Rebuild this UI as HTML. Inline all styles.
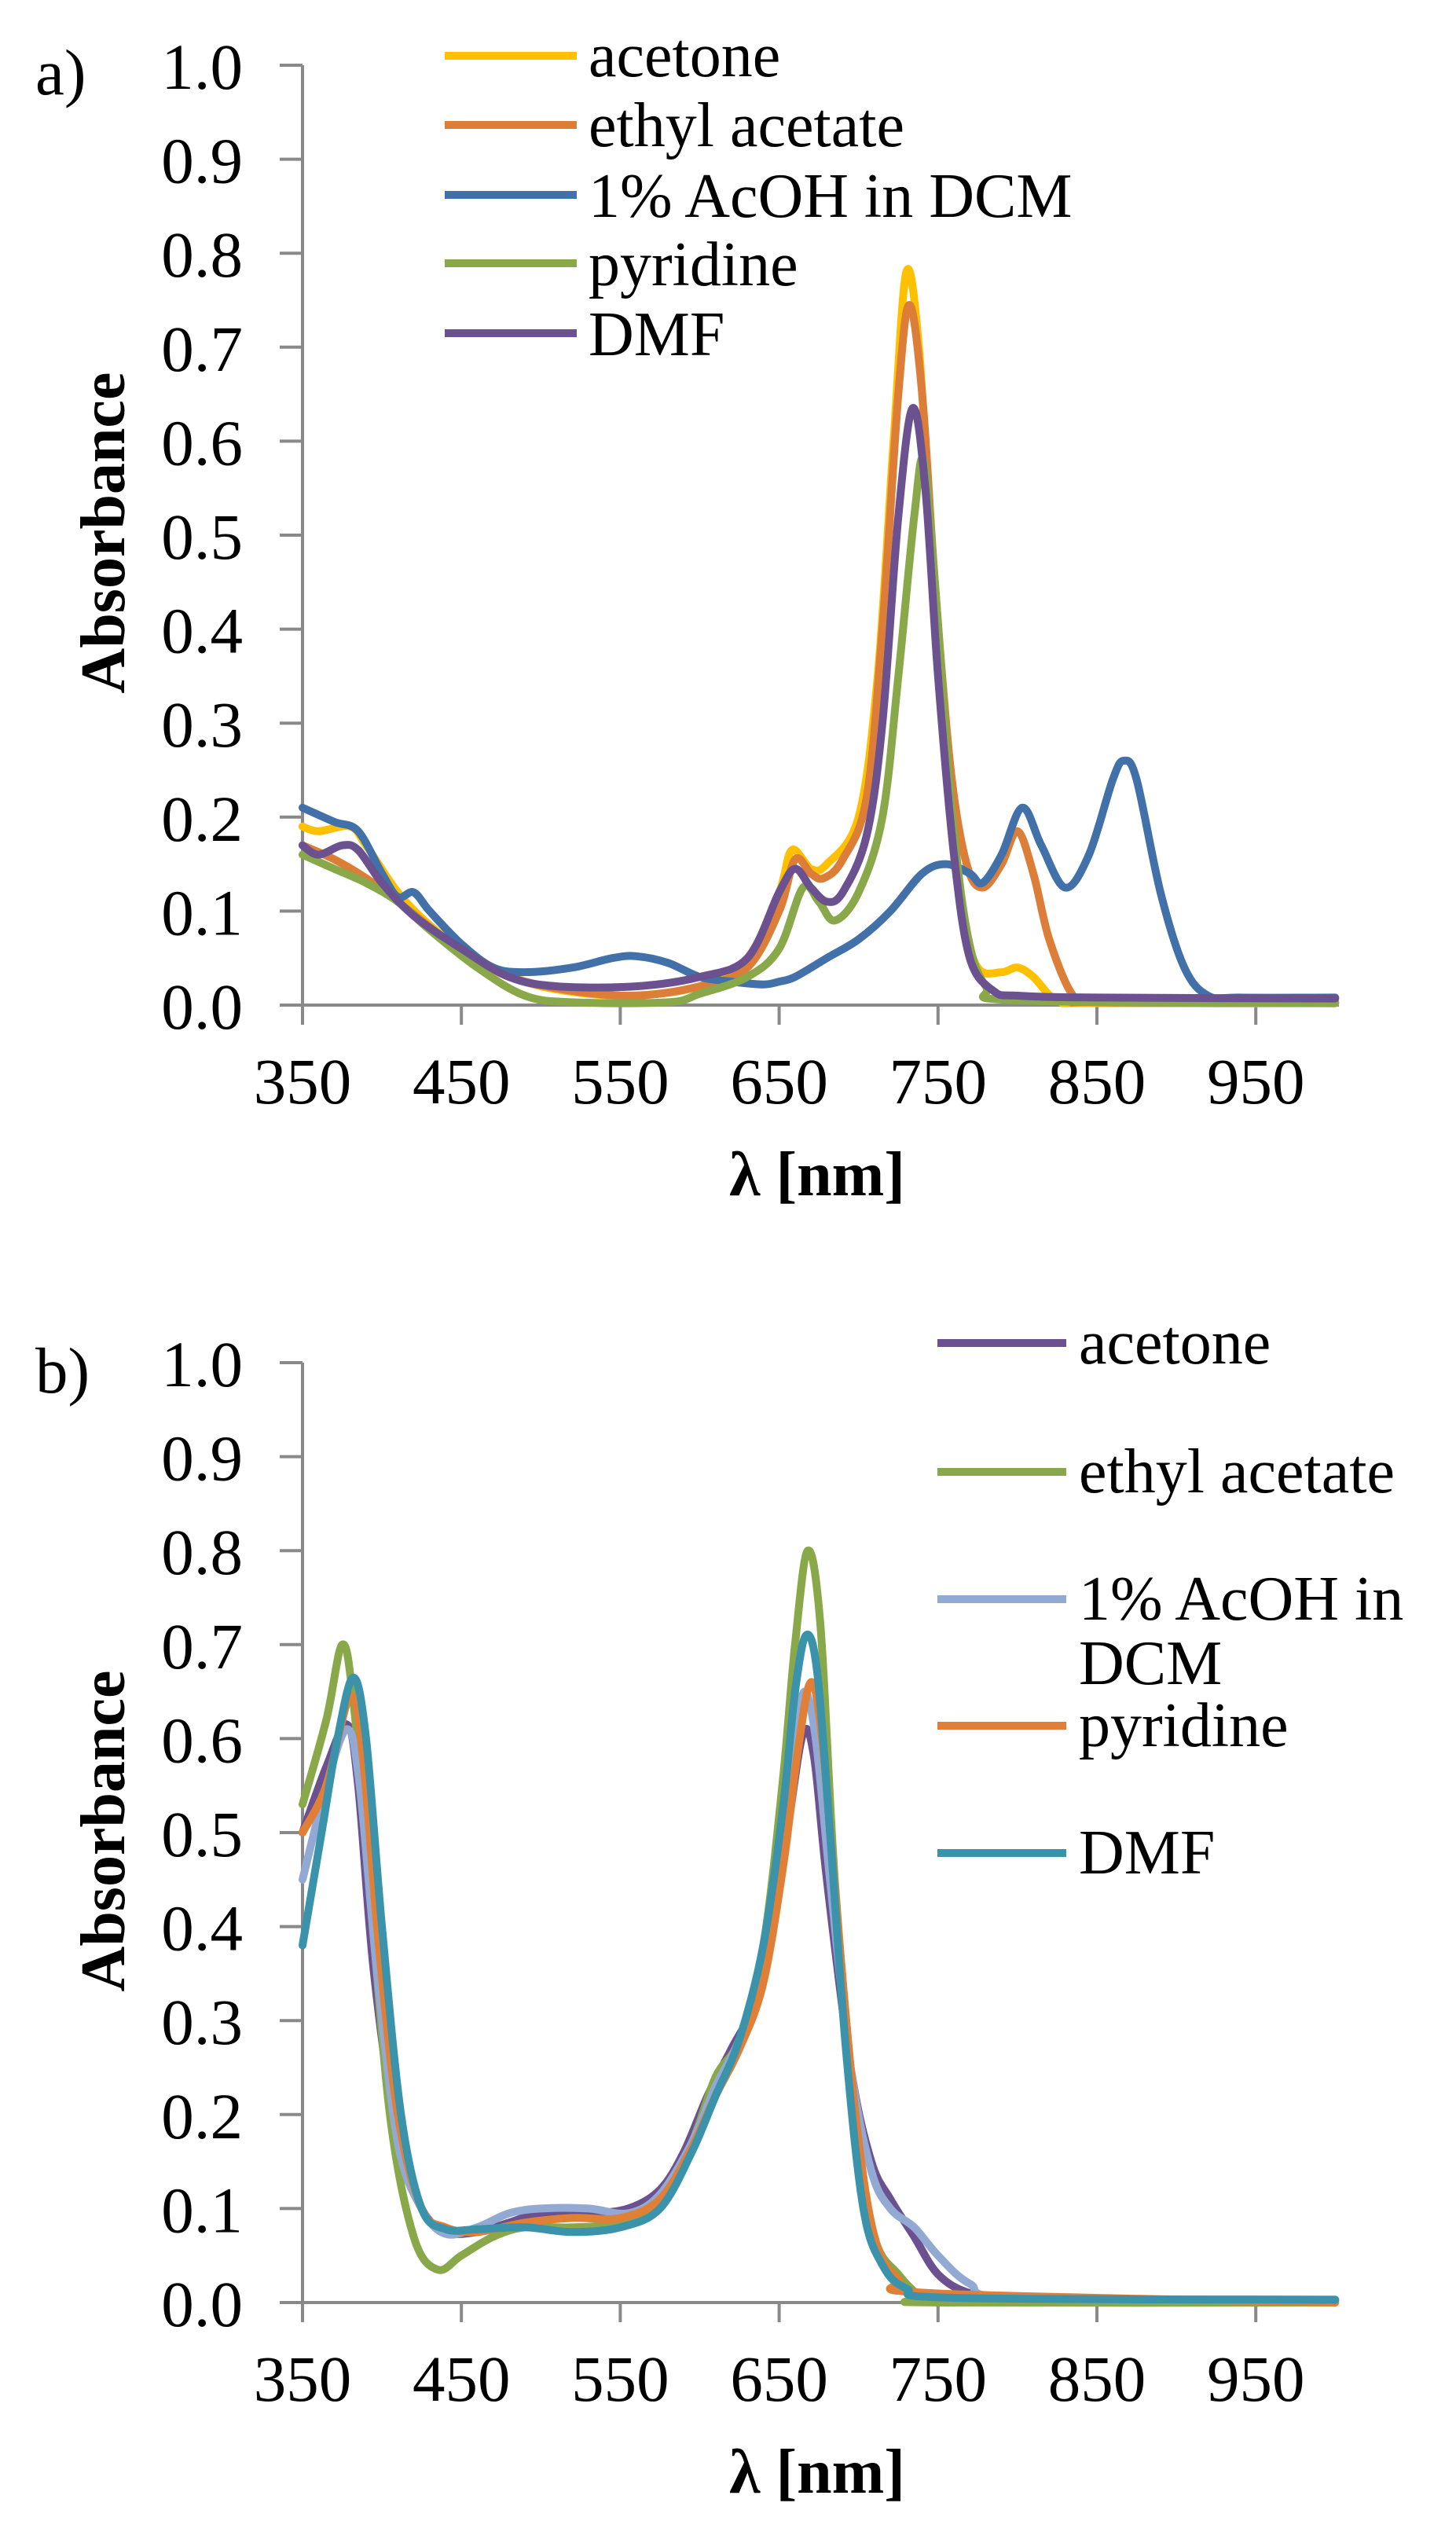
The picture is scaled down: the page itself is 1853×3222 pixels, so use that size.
<!DOCTYPE html>
<html><head><meta charset="utf-8">
<style>
html,body{margin:0;padding:0;background:#fff;}
svg{display:block;}
text{font-family:"Liberation Serif",serif;fill:#000;}
.t{font-size:83px;}
.lg{font-size:80px;}
.ti{font-size:80px;font-weight:bold;}
</style></head>
<body>
<svg id="s" width="1853" height="3222" viewBox="0 0 1853 3222" xmlns="http://www.w3.org/2000/svg">
<g id="axes" stroke="#898989" stroke-width="4" fill="none"></g>
<g id="curves" fill="none" stroke-width="10" stroke-linejoin="round" stroke-linecap="round"></g>
<g id="txt">
<text class="t" x="45" y="120" font-size="90">a)</text>
<text class="t" x="45" y="1772" font-size="90">b)</text>
<text class="ti" transform="translate(158,678) rotate(-90)" text-anchor="middle">Absorbance</text>
<text class="ti" transform="translate(158,2330) rotate(-90)" text-anchor="middle">Absorbance</text>
<text class="ti" x="1040" y="1521" text-anchor="middle">λ [nm]</text>
<text class="ti" x="1040" y="3172" text-anchor="middle">λ [nm]</text>
<text class="lg" x="749" y="97">acetone</text>
<text class="lg" x="749" y="186">ethyl acetate</text>
<text class="lg" x="749" y="276">1% AcOH in DCM</text>
<text class="lg" x="749" y="363">pyridine</text>
<text class="lg" x="749" y="452">DMF</text>
<text class="lg" x="1373" y="1735">acetone</text>
<text class="lg" x="1373" y="1899">ethyl acetate</text>
<text class="lg" x="1373" y="2061">1% AcOH in</text>
<text class="lg" x="1373" y="2143">DCM</text>
<text class="lg" x="1373" y="2222">pyridine</text>
<text class="lg" x="1373" y="2384">DMF</text>
</g>
</svg>
<script>
var NS="http://www.w3.org/2000/svg";
var svg=document.getElementById('s'),ax=document.getElementById('axes'),cv=document.getElementById('curves'),tx=document.getElementById('txt');
var X0=385,SX=2.022,R=1704;
function X(n){return X0+(n-350)*SX;}
function el(p,tag,a,t){var e=document.createElementNS(NS,tag);for(var k in a)e.setAttribute(k,a[k]);if(t!==undefined)e.textContent=t;p.appendChild(e);return e;}
function axes(off){
 var y0=1279+off,y1=83+off;
 el(ax,'line',{x1:X0,y1:y1,x2:X0,y2:y0+25});
 el(ax,'line',{x1:356,y1:y0,x2:R,y2:y0});
 for(var i=0;i<=10;i++){var y=y0-i*119.6;el(ax,'line',{x1:356,y1:y,x2:X0,y2:y});
  el(tx,'text',{'class':'t',x:309,y:y+30,'text-anchor':'end'},(i/10).toFixed(1));}
 for(var n=350;n<=950;n+=100){var x=X(n);el(ax,'line',{x1:x,y1:y0,x2:x,y2:y0+25});
  el(tx,'text',{'class':'t',x:x,y:y0+125,'text-anchor':'middle'},String(n));}
}
axes(0);axes(1651);
function path(d,off){
 var p=[];for(var i=0;i<d.length;i+=2)p.push([X(d[i]),1279+off-d[i+1]*1196]);
 var s='M'+p[0][0].toFixed(1)+','+p[0][1].toFixed(1);
 for(var i=0;i<p.length-1;i++){var a=p[Math.max(0,i-1)],b=p[i],c=p[i+1],e=p[Math.min(p.length-1,i+2)];
  var c1=[b[0]+(c[0]-a[0])/6,b[1]+(c[1]-a[1])/6],c2=[c[0]-(e[0]-b[0])/6,c[1]-(e[1]-b[1])/6];
  s+='C'+c1[0].toFixed(1)+','+c1[1].toFixed(1)+' '+c2[0].toFixed(1)+','+c2[1].toFixed(1)+' '+c[0].toFixed(1)+','+c[1].toFixed(1);}
 return s;}
var A=[
['#FFC000',[350,.19,360,.185,380,.19,390,.17,410,.12,430,.085,450,.06,470,.04,500,.02,550,.01,600,.02,630,.05,650,.12,658,.165,670,.145,680,.15,700,.2,712,.35,722,.6,730,.78,738,.7,745,.5,755,.25,765,.1,775,.04,790,.035,800,.04,810,.03,825,.005,850,.002,1000,.002]],
['#DC7E38',[350,.17,370,.155,390,.135,410,.11,440,.07,460,.05,480,.03,520,.015,560,.01,600,.02,630,.04,650,.1,660,.155,670,.14,678,.135,690,.155,705,.22,715,.4,725,.65,732,.745,740,.65,748,.45,758,.25,768,.15,778,.125,790,.15,800,.185,810,.14,820,.07,835,.01,850,.003,1000,.003]],
['#4270A8',[350,.21,370,.195,385,.185,400,.14,410,.115,420,.12,430,.1,450,.065,470,.04,490,.035,520,.04,545,.05,560,.052,580,.045,600,.03,620,.025,640,.022,650,.025,660,.03,680,.05,700,.07,720,.1,740,.14,755,.15,770,.14,778,.13,790,.16,803,.21,815,.17,830,.125,845,.16,860,.24,867,.26,875,.24,890,.12,905,.04,920,.01,940,.008,1000,.008]],
['#88A84A',[350,.16,370,.145,390,.13,410,.11,430,.08,460,.04,490,.01,520,.003,580,.003,600,.012,630,.03,650,.06,665,.125,675,.11,685,.09,700,.12,715,.2,725,.35,735,.52,741,.58,748,.45,758,.22,768,.08,780,.02,800,.005,1000,.002]],
['#6C5190',[350,.17,360,.16,375,.17,385,.165,400,.13,420,.095,450,.06,480,.03,510,.02,560,.02,600,.03,630,.05,650,.12,660,.145,670,.125,680,.11,690,.12,705,.18,715,.3,725,.52,734,.635,742,.55,750,.35,760,.16,770,.05,785,.015,800,.01,850,.008,1000,.007]]];
var B=[
['#6C5190',[350,.5,365,.57,378,.615,385,.55,395,.35,410,.17,425,.1,440,.075,460,.075,480,.085,500,.095,530,.095,555,.1,575,.12,590,.16,605,.22,620,.27,635,.32,645,.4,655,.5,665,.605,672,.58,680,.45,695,.25,708,.15,720,.11,735,.07,750,.03,770,.01,800,.005,1000,.002]],
['#88A84A',[350,.53,365,.62,375,.7,382,.64,392,.45,405,.2,420,.07,435,.035,450,.05,470,.07,490,.08,520,.08,550,.085,575,.11,595,.17,610,.24,625,.28,640,.38,652,.55,660,.7,668,.8,676,.72,685,.45,698,.2,710,.07,725,.03,740,.005,750,0,1000,0]],
['#92A9D4',[350,.45,365,.55,378,.61,386,.55,397,.35,410,.17,425,.1,440,.073,460,.08,480,.095,500,.1,530,.1,555,.095,575,.115,595,.17,610,.23,625,.28,640,.36,652,.5,660,.6,666,.65,673,.6,682,.45,695,.25,708,.14,720,.1,735,.08,750,.05,770,.02,800,.005,1000,.003]],
['#E07F35',[350,.5,365,.55,380,.645,388,.58,398,.38,410,.2,425,.1,440,.08,460,.075,490,.085,520,.09,550,.09,575,.11,595,.165,610,.22,625,.27,640,.34,653,.47,662,.59,670,.66,677,.6,686,.42,698,.2,710,.07,725,.025,745,.01,1000,0]],
['#3B93AB',[350,.38,362,.5,372,.6,382,.665,390,.6,400,.4,412,.2,425,.1,440,.078,460,.078,490,.08,520,.075,550,.08,575,.1,595,.16,610,.22,625,.28,640,.38,652,.52,660,.65,667,.71,674,.67,682,.5,692,.27,703,.1,715,.04,730,.015,760,.005,1000,.003]]];
A.forEach(function(c){el(cv,'path',{d:path(c[1],0),stroke:c[0]});});
B.forEach(function(c){el(cv,'path',{d:path(c[1],1651),stroke:c[0]});});
var la=[71,159,248,335,424];A.forEach(function(c,i){el(cv,'line',{x1:566,y1:la[i],x2:734,y2:la[i],stroke:c[0],'stroke-linecap':'butt'});});
var lb=[1709,1873,2035,2196,2358];B.forEach(function(c,i){el(cv,'line',{x1:1193,y1:lb[i],x2:1357,y2:lb[i],stroke:c[0],'stroke-linecap':'butt'});});
</script>
</body></html>
